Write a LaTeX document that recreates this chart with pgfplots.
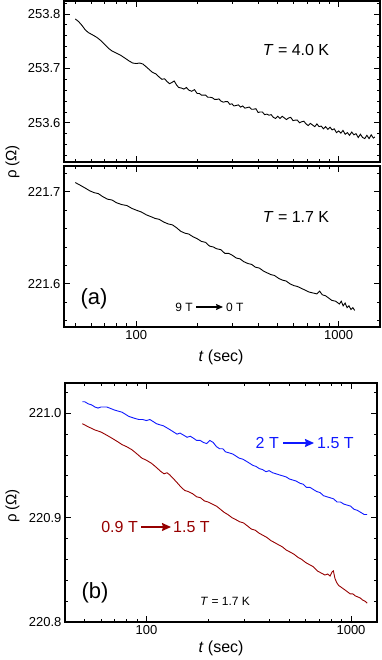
\documentclass[border=0pt]{standalone}
\usepackage{fontspec}
\setmainfont{Liberation Sans}
\usepackage{pgfplots}
\pgfplotsset{compat=1.18}
\usetikzlibrary{arrows.meta}
\definecolor{lineblue}{RGB}{15,25,255}
\definecolor{linered}{RGB}{150,0,0}

\pgfplotsset{
  rhopanel/.style={
    scale only axis, anchor=south west,
    axis line style={line width=1.2pt},
    every tick/.style={black,line width=0.9pt},
    major tick length=6pt, minor tick length=3.5pt,
    tick align=inside, xtick pos=both, ytick pos=both,
    xtick={100,1000}, xticklabels={100,1000},
    minor xtick={50,60,70,80,90,200,300,400,500,600,700,800,900},
    scaled y ticks=false,
    tick label style={font=\fontsize{13}{15}\selectfont},
    /pgf/number format/assume math mode=true,
    y tick label style={/pgf/number format/.cd,fixed,fixed zerofill,precision=1,/tikz/.cd},
  },
}

\begin{document}
\begin{tikzpicture}
% panel (a), T = 4.0 K
\begin{semilogxaxis}[rhopanel, at={(64pt,498pt)}, width=316pt, height=161pt,
  xmin=44, xmax=1600, ymin=253.528, ymax=253.824, xticklabels={},
  ytick={253.6,253.7,253.8},
  minor ytick={253.54,253.56,253.58,253.62,253.64,253.66,253.68,253.72,253.74,253.76,253.78,253.82}]
\addplot[black, line width=0.9pt] coordinates {
(50,253.791)(52,253.786)(54,253.779)(56,253.771)(58,253.766)(60,253.763)(62,253.760)(64,253.757)
(67,253.751)(70,253.744)(73,253.737)(76,253.732)(80,253.728)(84,253.724)(88,253.719)(92,253.714)
(96,253.710)(100,253.709)(104,253.710)(108,253.708)(112,253.703)(116,253.698)(120,253.693)(125,253.690)
(130,253.684)(134,253.680)(138,253.681)(142,253.676)(146,253.672)(150,253.674)(154,253.677)(158,253.670)
(162,253.665)(167,253.664)(172,253.662)(177,253.665)(182,253.660)(188,253.658)(194,253.661)
(200,253.654)(205,253.654)(210,253.651)(215,253.651)(220,253.651)(226,253.647)(232,253.647)(238,253.646)
(244,253.643)(250,253.643)(256,253.644)(262,253.640)(269,253.638)(276,253.639)(283,253.639)(290,253.634)
(297,253.635)(304,253.631)(312,253.632)(320,253.633)(328,253.629)(336,253.631)(344,253.627)(353,253.628)
(362,253.629)(371,253.625)(380,253.625)(390,253.626)(400,253.619)(410,253.620)(420,253.620)(431,253.615)
(442,253.616)(453,253.614)(464,253.615)(476,253.610)(488,253.608)(500,253.612)(513,253.608)(526,253.612)
(539,253.609)(552,253.606)(566,253.609)(580,253.610)(595,253.604)(610,253.605)(625,253.605)(641,253.600)
(657,253.602)(673,253.603)(690,253.598)(707,253.595)(725,253.599)(743,253.596)(762,253.593)(781,253.598)
(800,253.593)(820,253.594)(841,253.589)(862,253.593)(884,253.588)(906,253.592)(928,253.587)(951,253.589)
(975,253.582)(1000,253.585)(1025,253.581)(1050,253.586)(1077,253.579)(1104,253.582)(1131,253.577)(1160,253.583)
(1189,253.578)(1218,253.580)(1249,253.573)(1280,253.579)(1312,253.573)(1345,253.571)(1378,253.577)(1413,253.571)
(1448,253.578)(1484,253.572)(1510,253.574)};
\end{semilogxaxis}
% panel (a), T = 1.7 K
\begin{semilogxaxis}[rhopanel, at={(64pt,333pt)}, width=316pt, height=161pt,
  xmin=44, xmax=1600, ymin=221.553, ymax=221.728,
  ytick={221.6,221.7},
  minor ytick={221.56,221.58,221.62,221.64,221.66,221.68,221.72}]
\addplot[black, line width=0.9pt] coordinates {
(50,221.710)(53,221.707)(56,221.704)(59,221.701)(62,221.699)(65,221.698)(68,221.695)(72,221.692)
(76,221.691)(80,221.688)(85,221.686)(90,221.685)(95,221.682)(100,221.680)(106,221.678)(112,221.675)
(118,221.673)(124,221.671)(130,221.670)(137,221.667)(144,221.665)(151,221.664)(158,221.661)(166,221.657)
(174,221.655)(182,221.654)(191,221.651)(200,221.649)(210,221.646)(220,221.645)(230,221.641)(240,221.640)
(250,221.638)(262,221.637)(274,221.633)(286,221.633)(298,221.631)(312,221.628)(326,221.627)(340,221.624)
(356,221.622)(372,221.621)(388,221.618)(406,221.617)(424,221.614)(442,221.612)(462,221.610)(482,221.609)
(504,221.606)(526,221.604)(550,221.603)(574,221.600)(600,221.598)(626,221.597)(654,221.595)(684,221.593)
(714,221.591)(746,221.590)(780,221.589)(805,221.592)(830,221.588)(860,221.587)(886,221.585)(924,221.582)
(966,221.581)(1008,221.578)(1030,221.581)(1052,221.576)(1076,221.579)(1100,221.574)(1124,221.576)(1150,221.572)
(1175,221.574)(1200,221.571)};
\end{semilogxaxis}
% panel (b)
\begin{semilogxaxis}[rhopanel, at={(65pt,38pt)}, width=312pt, height=239pt,
  xmin=40, xmax=1340, ymin=220.8, ymax=221.029,
  ytick={220.8,220.9,221.0},
  minor ytick={220.82,220.84,220.86,220.88,220.92,220.94,220.96,220.98,221.02}]
\addplot[lineblue, line width=0.9pt] coordinates {
(48.6,221.011)(50,221.011)(52,221.009)(54,221.008)(56,221.006)(58,221.005)(60,221.006)(62,221.006)
(64,221.006)(66,221.005)(68,221.004)(70,221.003)(73,221.002)(76,221.001)(79,220.999)(82,220.997)
(85,220.996)(88,220.995)(92,220.994)(96,220.994)(100,220.993)(104,220.994)(108,220.992)(112,220.990)
(116,220.989)(121,220.988)(126,220.986)(131,220.984)(136,220.982)(141,220.980)(146,220.981)(152,220.979)
(158,220.977)(164,220.978)(170,220.976)(176,220.974)(183,220.974)(190,220.972)(197,220.971)(204,220.974)
(212,220.972)(220,220.968)(228,220.966)(236,220.966)(244,220.963)(254,220.962)(264,220.961)(274,220.959)
(284,220.957)(296,220.956)(308,220.954)(320,220.952)(332,220.950)(344,220.949)(356,220.947)(370,220.946)
(384,220.944)(398,220.945)(414,220.943)(430,220.942)(446,220.941)(464,220.940)(482,220.939)(500,220.937)
(520,220.936)(540,220.935)(562,220.933)(584,220.932)(606,220.929)(630,220.929)(654,220.927)(680,220.925)
(706,220.924)(734,220.921)(762,220.920)(792,220.919)(822,220.918)(854,220.915)(888,220.915)(922,220.913)
(958,220.912)(996,220.911)(1034,220.908)(1074,220.907)(1116,220.905)(1160,220.903)(1200,220.903)};
\addplot[linered, line width=0.9pt] coordinates {
(48.6,220.990)(52,220.987)(56,220.984)(60,220.982)(64,220.979)(68,220.976)(72,220.973)(76,220.970)
(80,220.968)(85,220.965)(90,220.961)(95,220.957)(100,220.955)(106,220.952)(112,220.948)(118,220.944)
(122,220.942)(126,220.943)(130,220.941)(136,220.937)(142,220.933)(148,220.929)(154,220.926)(160,220.925)
(168,220.923)(176,220.920)(184,220.919)(192,220.916)(200,220.915)(210,220.913)(220,220.911)(230,220.908)
(240,220.905)(250,220.903)(262,220.900)(274,220.898)(286,220.896)(298,220.895)(312,220.892)(326,220.889)
(340,220.888)(356,220.885)(372,220.883)(388,220.881)(406,220.878)(424,220.876)(442,220.874)(462,220.872)
(482,220.869)(504,220.867)(526,220.865)(550,220.862)(574,220.860)(600,220.857)(626,220.855)(654,220.853)
(684,220.849)(714,220.847)(746,220.845)(770,220.846)(790,220.844)(808,220.848)(820,220.849)(834,220.842)
(850,220.838)(870,220.835)(900,220.833)(930,220.831)(960,220.829)(990,220.827)(1020,220.827)(1050,220.825)
(1080,220.824)(1110,220.823)(1140,220.821)(1170,220.820)(1200,220.818)};
\end{semilogxaxis}
% labels
\tikzset{lbl/.style={inner sep=0pt, font=\fontsize{16}{18}\selectfont}}
\node[lbl] at (296pt,610pt) {\textit{T} = 4.0 K};
\node[lbl] at (296pt,443pt) {\textit{T} = 1.7 K};
\node[lbl, font=\fontsize{22}{24}\selectfont] at (94pt,361pt) {(a)};
\node[lbl, font=\fontsize{12}{14}\selectfont, anchor=east] at (193pt,353pt) {9 T};
\draw[line width=1.2pt, -{Stealth[length=7pt,width=6pt,inset=1pt]}] (196pt,353pt) -- (223pt,353pt);
\node[lbl, font=\fontsize{12}{14}\selectfont, anchor=west] at (226pt,353pt) {0 T};
\node[lbl, font=\fontsize{15}{17}\selectfont, rotate=90] at (12.5pt,498pt) {ρ (Ω)};
\node[lbl] at (221pt,303pt) {\textit{t} (sec)};
\node[lbl, font=\fontsize{22}{24}\selectfont] at (95pt,67pt) {(b)};
\node[lbl, font=\fontsize{12}{14}\selectfont] at (225pt,59pt) {\textit{T} = 1.7 K};
\node[lbl, text=lineblue, anchor=east] at (279pt,217pt) {2 T};
\draw[lineblue, line width=1.4pt, -{Stealth[length=9pt,width=8pt,inset=1pt]}] (283pt,217pt) -- (314pt,217pt);
\node[lbl, text=lineblue, anchor=west] at (317pt,217pt) {1.5 T};
\node[lbl, text=linered, anchor=east] at (138pt,133pt) {0.9 T};
\draw[linered, line width=1.4pt, -{Stealth[length=9pt,width=8pt,inset=1pt]}] (141pt,133pt) -- (171pt,133pt);
\node[lbl, text=linered, anchor=west] at (173pt,133pt) {1.5 T};
\node[lbl, font=\fontsize{15}{17}\selectfont, rotate=90] at (12.5pt,154pt) {ρ (Ω)};
\node[lbl] at (221pt,12pt) {\textit{t} (sec)};
\pgfresetboundingbox
\path[use as bounding box] (0pt,0pt) rectangle (382pt,660pt);
\end{tikzpicture}
\end{document}
